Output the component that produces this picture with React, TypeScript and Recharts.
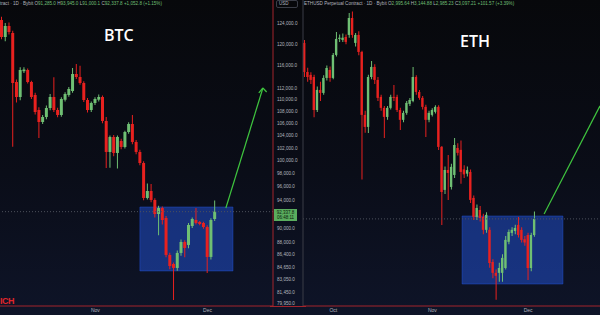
import React from "react";
import {
  Bar,
  Cell,
  ComposedChart,
  ReferenceArea,
  ReferenceLine,
  XAxis,
  YAxis,
} from "recharts";

// BTC daily candles (Oct 7 -> Dec 3)
const btcOpen = [
  124583, 121317, 123420, 122078, 113081, 110462, 115000, 115220, 113081, 110806,
  108240, 106230, 107063, 108578, 110462, 108240, 107398, 110000, 110806, 111501,
  114503, 113968, 112904, 109945, 108240, 109430, 110000, 110462, 106396, 101366,
  103769, 101209, 103125, 102162, 104582, 105898, 102963, 101366, 99636, 94335,
  95370, 94040, 92002, 92868, 91429, 86298, 85089, 84559, 86568, 88067,
  87656, 90293, 91144, 90860, 90718, 90152, 86029, 91285,
];
const btcHigh = [
  125200, 124000, 124100, 122500, 113500, 115700, 115700, 115500, 113300, 111200,
  108700, 107400, 109000, 111000, 113900, 108600, 110400, 111300, 112200, 115580,
  116300, 116000, 113200, 110300, 109700, 110400, 110900, 110700, 107060, 104000,
  104100, 104000, 103500, 104800, 106200, 107400, 103300, 101700, 99900, 96500,
  96400, 94300, 93200, 93100, 91700, 86600, 85300, 86900, 88400, 88300,
  90700, 91500, 92870, 91000, 90900, 90400, 91400, 93945,
];
const btcLow = [
  120900, 120500, 121800, 102200, 109500, 109900, 114700, 112800, 110100, 107500,
  103600, 105900, 106700, 108200, 107900, 107000, 107100, 109700, 110500, 111200,
  113600, 112600, 109600, 107800, 107900, 109100, 109700, 106000, 98860, 98900,
  100700, 98800, 101800, 101900, 104300, 102600, 101000, 99300, 94000, 94100,
  93700, 91500, 89000, 90500, 86000, 84400, 80440, 84200, 86200, 86000,
  87200, 90000, 90500, 90400, 89900, 83900, 85700, 91000.1,
];
const btcClose = [
  121317, 123420, 122269, 112904, 110462, 115220, 115300, 113081, 110462, 107902,
  106230, 107063, 108578, 110462, 108240, 107398, 110117, 110980, 111850, 114503,
  113968, 112904, 109945, 108240, 109430, 110117, 110462, 106396, 101366, 103769,
  101209, 103769, 102162, 104582, 105898, 102963, 101366, 99636, 94335, 95370,
  94040, 92002, 92868, 91144, 86298, 84823, 84559, 86568, 88067, 87246,
  90433, 91286, 90718, 90576, 90152, 86029, 91144, 92337.8,
];

// ETH daily candles (Sep 22 -> Dec 3)
const ethOpen = [
  4452, 4193, 4168, 4150, 3877, 4041, 4016, 4142, 4211, 4142,
  4343, 4489, 4480, 4507, 4526, 4687, 4452, 4526, 4370, 3838,
  3744, 4150, 4237, 4125, 3983, 3894, 3822, 3894, 3983, 3983,
  3877, 3799, 3854, 3926, 3950, 4150, 4024, 3975, 3902, 3799,
  3838, 3862, 3902, 3593, 3288, 3426, 3308, 3391, 3585, 3571,
  3430, 3400, 3412, 3234, 3110, 3155, 3110, 3028, 3028, 2834,
  2771, 2771, 2771, 2799, 2954, 3009, 3021, 3059, 3028, 2970,
  2996, 2799, 2995.64,
];
const ethHigh = [
  4480, 4230, 4190, 4170, 4070, 4110, 4165, 4250, 4240, 4360,
  4554, 4530, 4540, 4530, 4736, 4750, 4545, 4560, 4380, 3870,
  4170, 4290, 4260, 4150, 4000, 3910, 3910, 4000, 4083, 4000,
  3895, 3870, 3950, 3975, 4237, 4165, 4040, 3990, 3920, 3870,
  3890, 3915, 3915, 3600, 3450, 3534, 3470, 3660, 3620, 3640,
  3460, 3450, 3430, 3250, 3190, 3180, 3130, 3140, 3045, 2850,
  2790, 2830, 2880, 2990, 3030, 3045, 3060, 3110, 3045, 2990,
  3010, 3010, 3144.88,
];
const ethLow = [
  4150, 4110, 4090, 3820, 3860, 3950, 4000, 4120, 4110, 4130,
  4330, 4460, 4460, 4440, 4500, 4500, 4420, 4340, 3360, 3700,
  3698, 4130, 4090, 3950, 3870, 3660, 3800, 3880, 3950, 3860,
  3721, 3780, 3840, 3910, 3940, 4000, 3960, 3880, 3667, 3780,
  3825, 3850, 3570, 3059, 3260, 3221, 3290, 3370, 3530, 3330,
  3370, 3380, 3200, 3090, 3090, 3080, 3000, 3010, 2800, 2740,
  2621, 2720, 2720, 2790, 2940, 2990, 3000, 2980, 2950, 2930,
  2731, 2780, 2985.23,
];
const ethClose = [
  4193, 4150, 4125, 3877, 4041, 4016, 4142, 4228, 4142, 4343,
  4489, 4500, 4500, 4461, 4687, 4526, 4526, 4370, 3838, 3744,
  4150, 4237, 4125, 3975, 3894, 3822, 3894, 3983, 3975, 3877,
  3799, 3854, 3934, 3958, 4150, 4024, 3975, 3902, 3799, 3854,
  3877, 3902, 3593, 3274, 3426, 3405, 3448, 3607, 3549, 3412,
  3395, 3425, 3221, 3110, 3168, 3103, 3028, 3123, 2828, 2771,
  2754, 2799, 2858, 2966, 3015, 3028, 3040, 2996, 2966, 2950,
  2799, 2996, 3097.21,
];

const btcYTicks = [
  124000, 120000, 116000, 112000, 110000, 108000, 106000, 104000, 102000, 100000,
  98000, 96000, 94000, 90000, 88000, 86400, 84650, 83050, 81450, 79950,
];
const btcXTickIdx = [25, 55];
const btcXTickText = ["Nov", "Dec"];
const ethXTickIdx = [9, 40, 70];
const ethXTickText = ["Oct", "Nov", "Dec"];

const UP = "#6fbf73";
const DOWN = "#e8211f";
const AXIS_RED = "#a3242c";
const TXT = "#b2b5be";
const ARROW = "#3fc43f";

function buildRows(o: number[], h: number[], l: number[], c: number[], slots: number) {
  return Array.from({ length: slots }, (_, i) =>
    i < o.length
      ? {
          i,
          wick: [l[i], h[i]],
          body: [Math.min(o[i], c[i]), Math.max(o[i], c[i])],
          up: c[i] >= o[i],
        }
      : { i, wick: null, body: null, up: true }
  );
}

const btcRows = buildRows(btcOpen, btcHigh, btcLow, btcClose, 73);
const ethRows = buildRows(ethOpen, ethHigh, ethLow, ethClose, 93);

const fmtPrice = (v: number) =>
  v.toLocaleString("en-US", { minimumFractionDigits: 1, maximumFractionDigits: 1 });

const tickLabel = (idx: number[], text: string[]) => (v: number) => {
  const k = idx.indexOf(v);
  return k >= 0 ? text[k] : "";
};

export default function App() {
  const font = "'Liberation Sans', Arial, sans-serif";
  return (
    <div
      style={{
        position: "absolute",
        left: 0,
        top: 0,
        width: 600,
        height: 315,
        overflow: "hidden",
        background: "linear-gradient(180deg, #07080b 0%, #0a0d18 55%, #0e1428 100%)",
        fontFamily: font,
      }}
    >
      {/* BTC panel */}
      <div style={{ position: "absolute", left: 0, top: 0 }}>
        <ComposedChart width={300} height={315} data={btcRows} margin={{ top: 0, right: 0, bottom: 0, left: 0 }}>
          <XAxis
            xAxisId="b"
            dataKey="i"
            height={9}
            interval={0}
            ticks={btcXTickIdx}
            tickFormatter={tickLabel(btcXTickIdx, btcXTickText)}
            tickLine={false}
            tickSize={1}
            tickMargin={1}
            axisLine={{ stroke: AXIS_RED }}
            tick={{ fill: TXT, fontSize: 5 }}
          />
          <XAxis xAxisId="w" dataKey="i" hide />
          <XAxis xAxisId="n" dataKey="i" type="number" domain={[0, 73]} allowDataOverflow hide />
          <YAxis
            orientation="right"
            width={27}
            scale="log"
            domain={[79680, 128540]}
            allowDataOverflow
            ticks={btcYTicks}
            interval={0}
            tickFormatter={fmtPrice}
            tickLine={false}
            tickSize={2}
            tickMargin={2}
            axisLine={{ stroke: AXIS_RED }}
            tick={{ fill: TXT, fontSize: 4.6 }}
          />
          <ReferenceLine y={92337.8} xAxisId="n" stroke="#4d515c" strokeDasharray="1 2" />
          <ReferenceArea
            xAxisId="n"
            x1={37.4}
            x2={62.3}
            y1={84164}
            y2={93017}
            fill="#2962ff"
            fillOpacity={0.42}
            stroke="#2962ff"
            strokeOpacity={0.35}
          />
          <Bar xAxisId="w" dataKey="wick" barSize={1} isAnimationActive={false}>
            {btcRows.map((r) => (
              <Cell key={r.i} fill={r.up ? UP : DOWN} />
            ))}
          </Bar>
          <Bar xAxisId="b" dataKey="body" barSize={3} isAnimationActive={false}>
            {btcRows.map((r) => (
              <Cell key={r.i} fill={r.up ? UP : DOWN} />
            ))}
          </Bar>
          <ReferenceLine
            xAxisId="n"
            segment={[{ x: 60.4, y: 92868 }, { x: 70.3, y: 112025 }]}
            stroke={ARROW}
            strokeWidth={1.2}
            ifOverflow="visible"
          />
          <ReferenceLine
            xAxisId="n"
            segment={[{ x: 69.2, y: 111154 }, { x: 70.3, y: 112025 }]}
            stroke={ARROW}
            strokeWidth={1.2}
            ifOverflow="visible"
          />
          <ReferenceLine
            xAxisId="n"
            segment={[{ x: 71.3, y: 111327 }, { x: 70.3, y: 112025 }]}
            stroke={ARROW}
            strokeWidth={1.2}
            ifOverflow="visible"
          />
        </ComposedChart>
      </div>

      {/* ETH panel */}
      <div style={{ position: "absolute", left: 300, top: 0 }}>
        <ComposedChart width={300} height={315} data={ethRows} margin={{ top: 0, right: 0, bottom: 0, left: 0 }}>
          <XAxis
            xAxisId="b"
            dataKey="i"
            height={9}
            interval={0}
            ticks={ethXTickIdx}
            tickFormatter={tickLabel(ethXTickIdx, ethXTickText)}
            tickLine={false}
            tickSize={1}
            tickMargin={1}
            axisLine={{ stroke: AXIS_RED }}
            tick={{ fill: TXT, fontSize: 5 }}
          />
          <XAxis xAxisId="w" dataKey="i" hide />
          <XAxis xAxisId="n" dataKey="i" type="number" domain={[0, 93]} allowDataOverflow hide />
          <YAxis
            orientation="left"
            width={3}
            scale="log"
            domain={[2588, 4864]}
            allowDataOverflow
            tick={false}
            tickLine={false}
            axisLine={{ stroke: "#3a3d47" }}
          />
          <ReferenceLine y={3097.21} xAxisId="n" stroke="#4d515c" strokeDasharray="1 2" />
          <ReferenceArea
            xAxisId="n"
            x1={49.8}
            x2={81.4}
            y1={2708}
            y2={3116}
            fill="#2962ff"
            fillOpacity={0.42}
            stroke="#2962ff"
            strokeOpacity={0.35}
          />
          <Bar xAxisId="w" dataKey="wick" barSize={1} isAnimationActive={false}>
            {ethRows.map((r) => (
              <Cell key={r.i} fill={r.up ? UP : DOWN} />
            ))}
          </Bar>
          <Bar xAxisId="b" dataKey="body" barSize={2.4} isAnimationActive={false}>
            {ethRows.map((r) => (
              <Cell key={r.i} fill={r.up ? UP : DOWN} />
            ))}
          </Bar>
          <ReferenceLine
            xAxisId="n"
            segment={[{ x: 75.5, y: 3129 }, { x: 93, y: 3910 }]}
            stroke={ARROW}
            strokeWidth={1.2}
            ifOverflow="visible"
          />
        </ComposedChart>
      </div>

      {/* red baseline under the price scale gap */}
      <div style={{ position: "absolute", left: 270, top: 305.5, width: 36, height: 1, background: AXIS_RED }} />

      {/* header texts */}
      <div style={{ position: "absolute", left: 0, top: 1, fontSize: 4.6, color: TXT, whiteSpace: "nowrap" }}>
        tract · 1D · Bybit O<span style={{ color: UP }}>91,285.0</span> H<span style={{ color: UP }}>93,945.0</span> L
        <span style={{ color: UP }}>91,000.1</span> C<span style={{ color: UP }}>92,337.8</span>{" "}
        <span style={{ color: UP }}>+1,052.8 (+1.15%)</span>
      </div>
      <div style={{ position: "absolute", left: 304, top: 1, fontSize: 4.6, color: TXT, whiteSpace: "nowrap" }}>
        ETHUSD Perpetual Contract · 1D · Bybit O<span style={{ color: UP }}>2,995.64</span> H
        <span style={{ color: UP }}>3,144.88</span> L<span style={{ color: UP }}>2,985.23</span> C
        <span style={{ color: UP }}>3,097.21</span> <span style={{ color: UP }}>+101.57 (+3.39%)</span>
      </div>

      {/* USD box */}
      <div
        style={{
          position: "absolute",
          left: 276,
          top: 0,
          width: 22,
          height: 8,
          border: "1px solid #3a3d47",
          borderRadius: 2,
          boxSizing: "border-box",
          fontSize: 4.5,
          color: TXT,
          lineHeight: "6px",
          paddingLeft: 2,
        }}
      >
        USD
      </div>

      {/* last price label */}
      <div
        style={{
          position: "absolute",
          left: 274,
          top: 209,
          width: 23,
          height: 12,
          background: "#5aad5e",
          color: "#0b1a0b",
          fontSize: 4.5,
          lineHeight: "5.5px",
          textAlign: "center",
          paddingTop: 0.5,
          boxSizing: "border-box",
        }}
      >
        92,337.8
        <br />
        06:48:11
      </div>

      {/* titles */}
      <div
        style={{
          position: "absolute",
          left: 104,
          top: 24,
          fontSize: 16,
          fontWeight: 600,
          color: "#ffffff",
          fontFamily: "'Open Sans', sans-serif",
        }}
      >
        BTC
      </div>
      <div
        style={{
          position: "absolute",
          left: 460,
          top: 30,
          fontSize: 16,
          fontWeight: 600,
          color: "#ffffff",
          fontFamily: "'Open Sans', sans-serif",
        }}
      >
        ETH
      </div>
      <div
        style={{
          position: "absolute",
          left: 0,
          top: 296,
          fontSize: 9,
          fontWeight: 700,
          color: "#e0262b",
          letterSpacing: -0.5,
        }}
      >
        ICH
      </div>
    </div>
  );
}
